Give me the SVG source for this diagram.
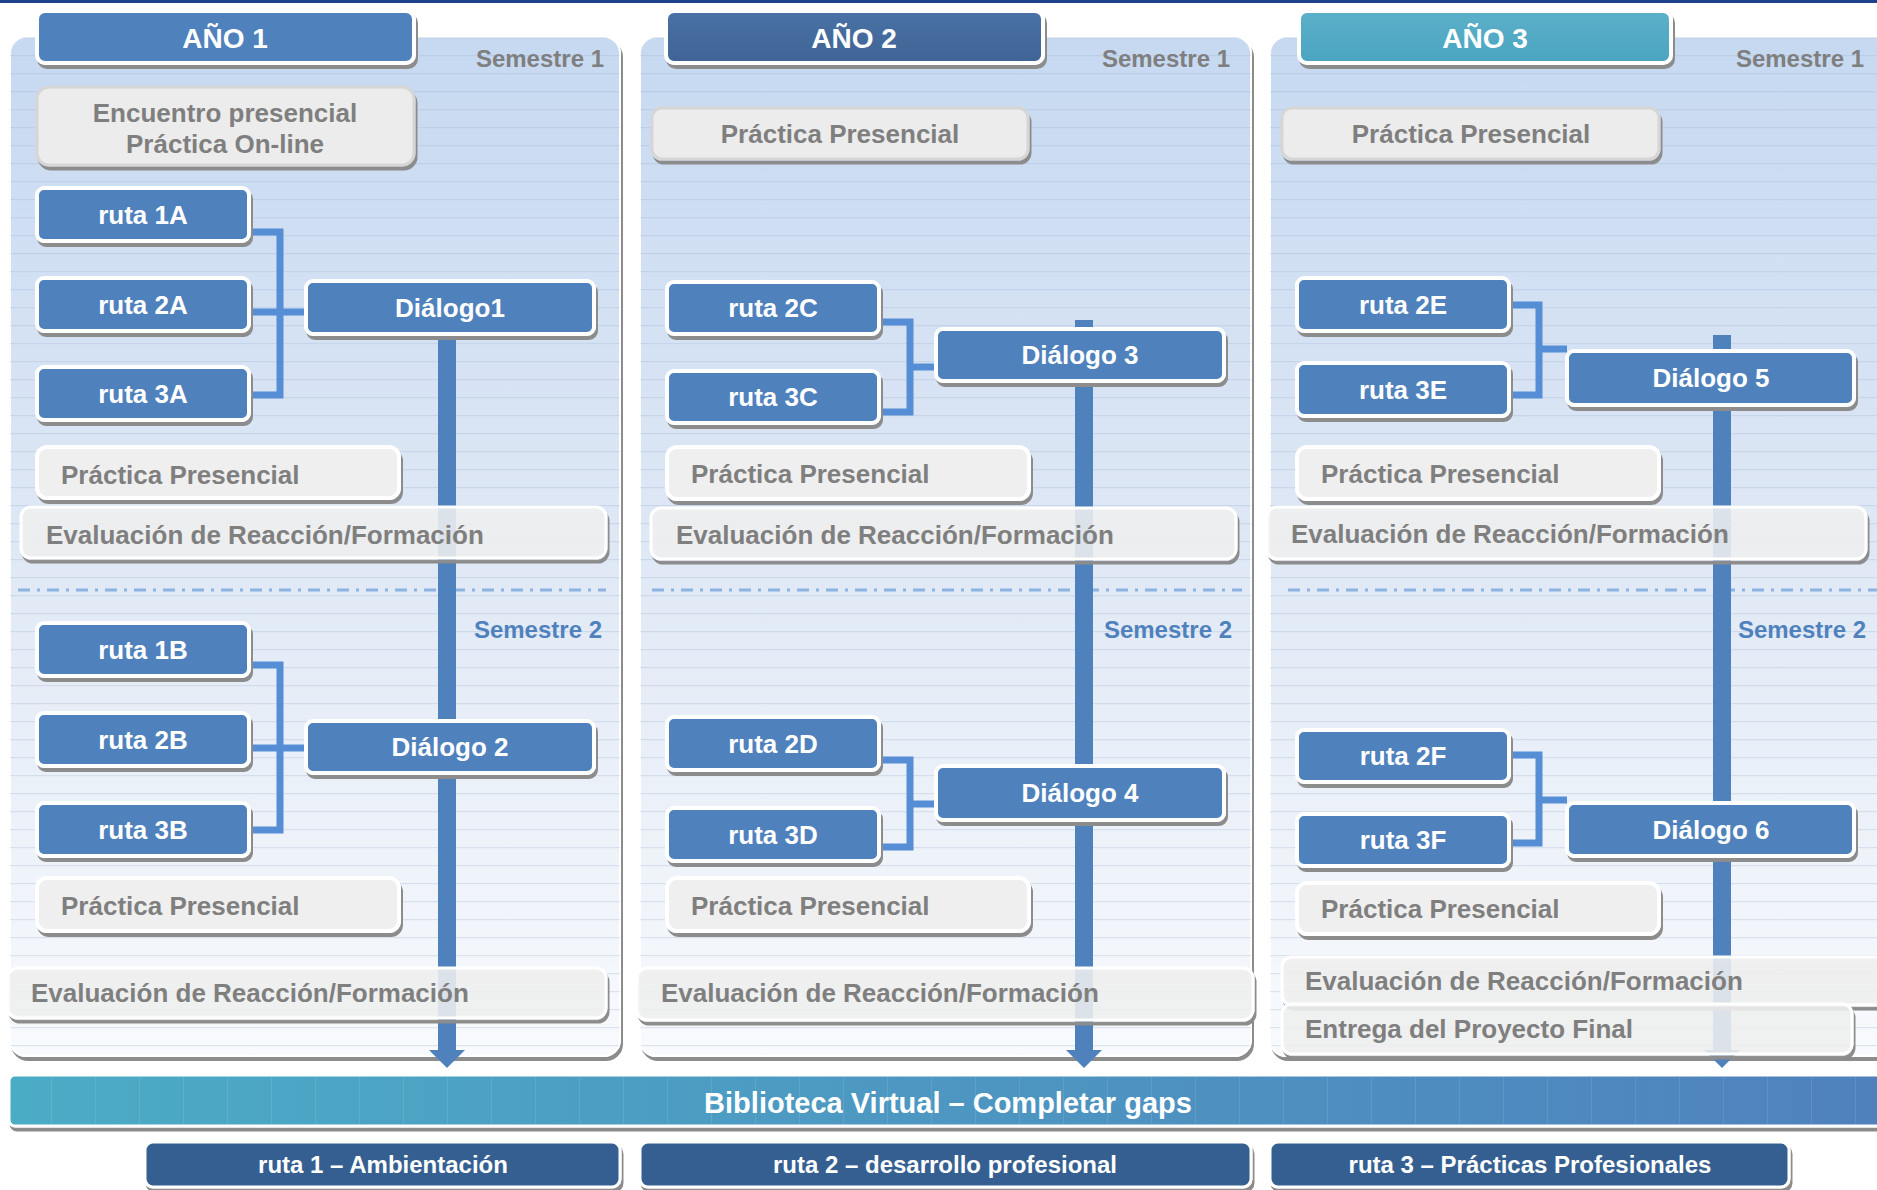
<svg xmlns="http://www.w3.org/2000/svg" width="1877" height="1190" viewBox="0 0 1877 1190">
<defs>
<style>
text{font-family:"Liberation Sans",Arial,Helvetica,sans-serif;font-weight:bold}
.blue{fill:#4f81bd;stroke:#fff;stroke-width:4;filter:url(#sh)}
.gray{fill:#efefef;stroke:#fff;stroke-width:4;filter:url(#sh)}
.top{fill:#ececec;stroke:#d6d6d6;stroke-width:3;filter:url(#sh)}
.ghost{fill:#f0f0f0;fill-opacity:.88;stroke:#fff;stroke-width:3;filter:url(#sh)}
.dark{fill:#365f91;stroke:#fff;stroke-width:3;filter:url(#sh)}
.panel{fill:url(#pg);stroke:#fff;stroke-width:2;filter:url(#sh)}
.stripe{fill:url(#stripes)}
.wt{fill:#fff;font-size:26px;text-anchor:middle}
.gt{fill:#7f7f7f;font-size:26px}
.gc{fill:#7f7f7f;font-size:26px;text-anchor:middle}
.hd{fill:#fff;font-size:28px;text-anchor:middle}
.s1{fill:#7f7f7f;font-size:24px;text-anchor:end}
.s2{fill:#4f81bd;font-size:24px;text-anchor:end}
.bt{fill:#fff;font-size:24px;text-anchor:middle}
.br{fill:none;stroke:#558ed5;stroke-width:7}
.tl{stroke:#4f81bd;stroke-width:18}
.dd{stroke:#8db3e2;stroke-width:3;stroke-dasharray:12 7 3 7}
</style>
<filter id="sh" x="-5%" y="-10%" width="112%" height="130%" color-interpolation-filters="sRGB">
<feOffset in="SourceAlpha" dx="2" dy="4" result="o"/>
<feComposite in="o" in2="SourceAlpha" operator="out" result="c"/>
<feFlood flood-color="#8c8c8c"/>
<feComposite in2="c" operator="in" result="s"/>
<feMerge><feMergeNode in="s"/><feMergeNode in="SourceGraphic"/></feMerge>
</filter>
<linearGradient id="pg" x1="0" y1="0" x2="0" y2="1">
<stop offset="0" stop-color="#c6d9f1"/>
<stop offset="0.5" stop-color="#dfe8f5"/>
<stop offset="1" stop-color="#f8fafd"/>
</linearGradient>
<pattern id="stripes" patternUnits="userSpaceOnUse" x="0" y="1" width="20" height="18">
<rect x="0" y="0" width="20" height="1.2" fill="#9fb5d3" fill-opacity="0.3"/>
</pattern>
<linearGradient id="bar" x1="0" y1="0" x2="1" y2="0">
<stop offset="0" stop-color="#4bacc6"/>
<stop offset="1" stop-color="#4f81bd"/>
</linearGradient>
<pattern id="barlines" patternUnits="userSpaceOnUse" x="7" y="0" width="44" height="20">
<rect x="0" y="0" width="1" height="20" fill="#ffffff" fill-opacity="0.1"/>
</pattern>
<linearGradient id="h2" x1="0" y1="0" x2="0" y2="1">
<stop offset="0" stop-color="#4a72a6"/>
<stop offset="1" stop-color="#3f6394"/>
</linearGradient>
<linearGradient id="h3" x1="0" y1="0" x2="0" y2="1">
<stop offset="0" stop-color="#5cb0c9"/>
<stop offset="1" stop-color="#4aa4c1"/>
</linearGradient>
<marker id="ah" viewBox="0 -18 18 36" markerWidth="18" markerHeight="36" refX="0" refY="0" orient="auto" markerUnits="userSpaceOnUse">
<path d="M0,-18 L18,0 L0,18 Z" fill="#4f81bd"/>
</marker>
</defs>

<rect x="0" y="0" width="1877" height="1190" fill="#fff"/>
<rect x="0" y="0" width="1877" height="3" fill="#1f418b"/>

<g id="panels">
<g id="panel1"><rect class="panel" x="10" y="37" width="610" height="1019" rx="16"/><rect class="stripe" x="10" y="37" width="610" height="1019" rx="16"/></g>
<g id="panel2"><rect class="panel" x="640" y="37" width="611" height="1019" rx="16"/><rect class="stripe" x="640" y="37" width="611" height="1019" rx="16"/></g>
<g id="panel3"><rect class="panel" x="1270" y="37" width="640" height="1019" rx="16"/><rect class="stripe" x="1270" y="37" width="640" height="1019" rx="16"/></g>
<line class="dd" x1="18" y1="590" x2="606" y2="590"/>
<line class="dd" x1="652" y1="590" x2="1242" y2="590"/>
<line class="dd" x1="1288" y1="590" x2="1877" y2="590"/>
<text class="s1" x="604" y="67">Semestre 1</text>
<text class="s1" x="1230" y="67">Semestre 1</text>
<text class="s1" x="1864" y="67">Semestre 1</text>
<text class="s2" x="602" y="638">Semestre 2</text>
<text class="s2" x="1232" y="638">Semestre 2</text>
<text class="s2" x="1866" y="638">Semestre 2</text>
</g>

<g id="connectors">
<path class="br" d="M250,232 H280 V395 H250 M250,312 H306"/>
<path class="br" d="M250,665 H280 V830 H250 M250,748 H306"/>
<path class="br" d="M880,322 H910 V412 H880 M910,367 H936"/>
<path class="br" d="M880,760 H910 V847 H880 M910,804 H936"/>
<path class="br" d="M1510,305 H1539 V395 H1510 M1539,349 H1567"/>
<path class="br" d="M1510,755 H1539 V843 H1510 M1539,800 H1567"/>
<line class="tl" x1="447" y1="335" x2="447" y2="1050" marker-end="url(#ah)"/>
<line class="tl" x1="1084" y1="320" x2="1084" y2="1050" marker-end="url(#ah)"/>
<line class="tl" x1="1722" y1="335" x2="1722" y2="1050" marker-end="url(#ah)"/>
</g>

<g id="ano1"><rect class="blue" x="37" y="11" width="377" height="52" rx="8"/><text class="hd" x="225" y="48">AÑO 1</text></g>
<g id="ano2"><rect x="666" y="11" width="377" height="52" rx="8" fill="url(#h2)" stroke="#fff" stroke-width="4" filter="url(#sh)"/><text class="hd" x="854" y="48">AÑO 2</text></g>
<g id="ano3"><rect x="1299" y="11" width="372" height="52" rx="8" fill="url(#h3)" stroke="#fff" stroke-width="4" filter="url(#sh)"/><text class="hd" x="1485" y="48">AÑO 3</text></g>

<g id="encuentro"><rect class="top" x="37" y="87" width="377" height="78" rx="12"/><text class="gc" x="225" y="122">Encuentro presencial</text><text class="gc" x="225" y="153">Práctica On-line</text></g>
<g id="r1A"><rect class="blue" x="37" y="188" width="212" height="53" rx="7"/><text class="wt" x="143" y="224">ruta 1A</text></g>
<g id="r2A"><rect class="blue" x="37" y="278" width="212" height="53" rx="7"/><text class="wt" x="143" y="314">ruta 2A</text></g>
<g id="r3A"><rect class="blue" x="37" y="367" width="212" height="53" rx="7"/><text class="wt" x="143" y="403">ruta 3A</text></g>
<g id="d1"><rect class="blue" x="306" y="281" width="288" height="53" rx="7"/><text class="wt" x="450" y="317">Diálogo1</text></g>
<g id="p1a"><rect class="gray" x="37" y="447" width="362" height="51" rx="10"/><text class="gt" x="61" y="484">Práctica Presencial</text></g>
<g id="e1a"><rect class="ghost" x="21" y="507" width="585" height="51" rx="10"/><text class="gt" x="46" y="544">Evaluación de Reacción/Formación</text></g>
<g id="r1B"><rect class="blue" x="37" y="623" width="212" height="53" rx="7"/><text class="wt" x="143" y="659">ruta 1B</text></g>
<g id="r2B"><rect class="blue" x="37" y="713" width="212" height="53" rx="7"/><text class="wt" x="143" y="749">ruta 2B</text></g>
<g id="r3B"><rect class="blue" x="37" y="803" width="212" height="53" rx="7"/><text class="wt" x="143" y="839">ruta 3B</text></g>
<g id="d2"><rect class="blue" x="306" y="721" width="288" height="52" rx="7"/><text class="wt" x="450" y="756">Diálogo 2</text></g>
<g id="p1b"><rect class="gray" x="37" y="878" width="362" height="53" rx="10"/><text class="gt" x="61" y="915">Práctica Presencial</text></g>
<g id="e1b"><rect class="ghost" x="8" y="968" width="598" height="50" rx="10"/><text class="gt" x="31" y="1002">Evaluación de Reacción/Formación</text></g>

<g id="p2top"><rect class="top" x="652" y="108" width="376" height="51" rx="10"/><text class="gc" x="840" y="143">Práctica Presencial</text></g>
<g id="r2C"><rect class="blue" x="667" y="282" width="212" height="52" rx="7"/><text class="wt" x="773" y="317">ruta 2C</text></g>
<g id="r3C"><rect class="blue" x="667" y="371" width="212" height="52" rx="7"/><text class="wt" x="773" y="406">ruta 3C</text></g>
<g id="d3"><rect class="blue" x="936" y="329" width="288" height="52" rx="7"/><text class="wt" x="1080" y="364">Diálogo 3</text></g>
<g id="p2a"><rect class="gray" x="667" y="447" width="362" height="52" rx="10"/><text class="gt" x="691" y="483">Práctica Presencial</text></g>
<g id="e2a"><rect class="ghost" x="651" y="508" width="585" height="51" rx="10"/><text class="gt" x="676" y="544">Evaluación de Reacción/Formación</text></g>
<g id="r2D"><rect class="blue" x="667" y="717" width="212" height="53" rx="7"/><text class="wt" x="773" y="753">ruta 2D</text></g>
<g id="r3D"><rect class="blue" x="667" y="808" width="212" height="53" rx="7"/><text class="wt" x="773" y="844">ruta 3D</text></g>
<g id="d4"><rect class="blue" x="936" y="766" width="288" height="54" rx="7"/><text class="wt" x="1080" y="802">Diálogo 4</text></g>
<g id="p2b"><rect class="gray" x="667" y="878" width="362" height="53" rx="10"/><text class="gt" x="691" y="915">Práctica Presencial</text></g>
<g id="e2b"><rect class="ghost" x="637" y="968" width="616" height="52" rx="10"/><text class="gt" x="661" y="1002">Evaluación de Reacción/Formación</text></g>

<g id="p3top"><rect class="top" x="1282" y="108" width="377" height="51" rx="10"/><text class="gc" x="1471" y="143">Práctica Presencial</text></g>
<g id="r2E"><rect class="blue" x="1297" y="278" width="212" height="53" rx="7"/><text class="wt" x="1403" y="314">ruta 2E</text></g>
<g id="r3E"><rect class="blue" x="1297" y="363" width="212" height="53" rx="7"/><text class="wt" x="1403" y="399">ruta 3E</text></g>
<g id="d5"><rect class="blue" x="1567" y="351" width="287" height="54" rx="7"/><text class="wt" x="1711" y="387">Diálogo 5</text></g>
<g id="p3a"><rect class="gray" x="1297" y="447" width="362" height="52" rx="10"/><text class="gt" x="1321" y="483">Práctica Presencial</text></g>
<g id="e3a"><rect class="ghost" x="1267" y="507" width="599" height="52" rx="10"/><text class="gt" x="1291" y="543">Evaluación de Reacción/Formación</text></g>
<g id="r2F"><rect class="blue" x="1297" y="730" width="212" height="52" rx="7"/><text class="wt" x="1403" y="765">ruta 2F</text></g>
<g id="r3F"><rect class="blue" x="1297" y="814" width="212" height="52" rx="7"/><text class="wt" x="1403" y="849">ruta 3F</text></g>
<g id="d6"><rect class="blue" x="1567" y="803" width="287" height="53" rx="7"/><text class="wt" x="1711" y="839">Diálogo 6</text></g>
<g id="p3b"><rect class="gray" x="1297" y="883" width="362" height="51" rx="10"/><text class="gt" x="1321" y="918">Práctica Presencial</text></g>
<g id="e3b"><rect class="ghost" x="1282" y="957" width="620" height="48" rx="10"/><text class="gt" x="1305" y="990">Evaluación de Reacción/Formación</text></g>
<g id="entrega"><rect class="ghost" x="1282" y="1004" width="570" height="50" rx="10"/><text class="gt" x="1305" y="1038">Entrega del Proyecto Final</text></g>

<g id="biblioteca"><rect x="9" y="1075" width="1900" height="51" rx="6" fill="url(#bar)" stroke="#fff" stroke-width="3" filter="url(#sh)"/><rect x="11" y="1077" width="1896" height="47" fill="url(#barlines)"/><text x="948" y="1113" fill="#fff" font-size="29" text-anchor="middle">Biblioteca Virtual – Completar gaps</text></g>

<g id="ruta1"><rect class="dark" x="145" y="1142" width="475" height="45" rx="8"/><text class="bt" x="383" y="1173">ruta 1 – Ambientación</text></g>
<g id="ruta2"><rect class="dark" x="640" y="1142" width="611" height="45" rx="8"/><text class="bt" x="945" y="1173">ruta 2 – desarrollo profesional</text></g>
<g id="ruta3"><rect class="dark" x="1270" y="1142" width="519" height="45" rx="8"/><text class="bt" x="1530" y="1173">ruta 3 – Prácticas Profesionales</text></g>
</svg>
